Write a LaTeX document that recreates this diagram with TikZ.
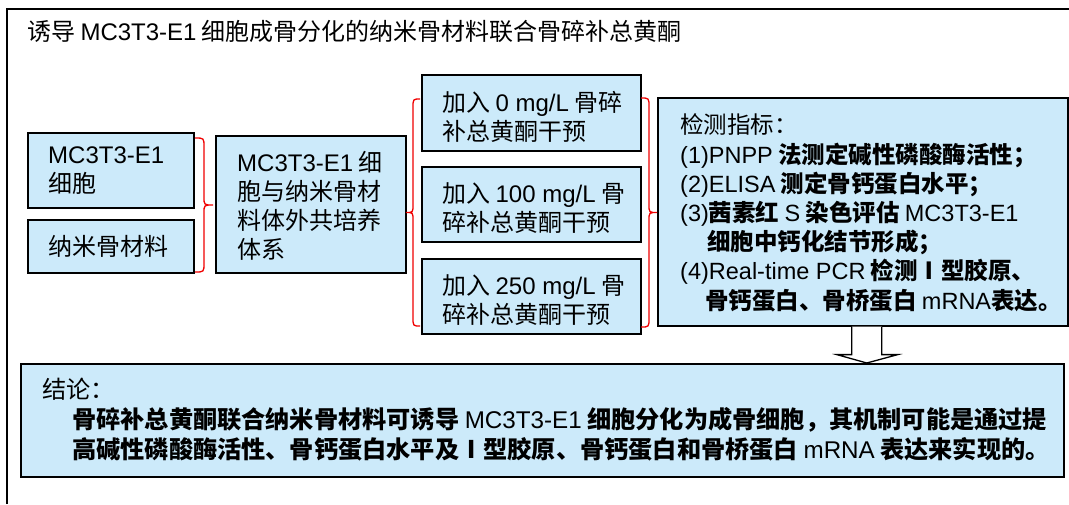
\documentclass[tikz,border=0pt]{standalone}
\usepackage{fontspec}
\setmainfont{Noto Sans CJK SC}
\newfontfamily\lat{Liberation Sans}
\usetikzlibrary{calc}
\definecolor{boxblue}{RGB}{204,234,250}
\definecolor{bracered}{RGB}{240,0,0}
\newcommand\la[1]{{\lat\mdseries #1}}
% right/left curly brace: #1 x of ends, #2 x of spine, #3 x of tip, #4 top y, #5 bottom y
\newcommand\bracepath[5]{%
  \pgfmathsetmacro\ym{(#4+#5)/2}%
  \draw[bracestyle] (#1,#4) .. controls (#2,#4) .. (#2,#4+9) -- (#2,\ym-8)
    .. controls (#2,\ym) .. (#3,\ym) .. controls (#2,\ym) .. (#2,\ym+8)
    -- (#2,#5-9) .. controls (#2,#5) .. (#1,#5);}
\begin{document}
\begin{tikzpicture}[x=1pt,y=-1pt,
  box/.style={draw=black, line width=1.6pt, fill=boxblue, anchor=north west, inner sep=0pt},
  txt/.style={anchor=west, inner sep=0pt, align=left, font=\fontsize{24pt}{29pt}\selectfont},
  txtE/.style={anchor=west, inner sep=0pt, align=left, font=\fontsize{23.5pt}{29.2pt}\selectfont},
  txtF/.style={anchor=west, inner sep=0pt, align=left, font=\fontsize{24.2pt}{30pt}\selectfont},
  bracestyle/.style={draw=bracered, line width=1.3pt},
  frame/.style={draw=black, line width=1.3pt},
  hollowarrow/.style={draw=black, line width=1.3pt, fill=white, line join=miter}]
\useasboundingbox (0,0) rectangle (1069,504);
\fill[white] (0,0) rectangle (1069,504);
\draw[frame] (7,504) -- (7,9) -- (1069,9);

\node[anchor=west, inner sep=0pt, font=\fontsize{24pt}{28pt}\selectfont] (title) at (27,31)
  {诱导 \la{MC3T3-E1} 细胞成骨分化的纳米骨材料联合骨碎补总黄酮};

% boxes
\node[box, minimum width=166pt, minimum height=75pt] (A) at (27,132) {};
\node[box, minimum width=166pt, minimum height=53pt] (B) at (27,219) {};
\node[box, minimum width=190pt, minimum height=137pt] (C) at (215,135) {};
\node[box, minimum width=219pt, minimum height=76pt] (D1) at (421,74) {};
\node[box, minimum width=219pt, minimum height=75pt] (D2) at (421,166) {};
\node[box, minimum width=219pt, minimum height=75pt] (D3) at (421,258) {};
\node[box, minimum width=410pt, minimum height=228pt] (E) at (657,97) {};
\node[box, minimum width=1043pt, minimum height=113pt] (F) at (20,363) {};

% texts
\node[txt] (At) at ($(A.west)+(21,0)$) {\la{MC3T3-E1}\\细胞};
\node[txt] (Bt) at ($(B.west)+(21,0)$) {纳米骨材料};
\node[txt] (Ct) at ($(C.west)+(22,2)$) {\la{MC3T3-E1} 细\\胞与纳米骨材\\料体外共培养\\体系};
\node[txt] (D1t) at ($(D1.west)+(21,4)$) {加入 \la{0 mg/L} 骨碎\\补总黄酮干预};
\node[txt] (D2t) at ($(D2.west)+(21,4)$) {加入 \la{100 mg/L} 骨\\碎补总黄酮干预};
\node[txt] (D3t) at ($(D3.west)+(21,4)$) {加入 \la{250 mg/L} 骨\\碎补总黄酮干预};
\node[txtE] (Et) at ($(E.west)+(23,1)$) {检测指标：\\
  \la{(1)PNPP} {\bfseries 法测定碱性磷酸酶活性；}\\
  \la{(2)ELISA} {\bfseries 测定骨钙蛋白水平；}\\
  \la{(3)}{\bfseries 茜素红} \la{S} {\bfseries 染色评估} \la{MC3T3-E1}\\
  \hspace*{27pt}{\bfseries 细胞中钙化结节形成；}\\
  \la{(4)Real-time PCR} {\bfseries 检测Ⅰ型胶原、}\\
  \hspace*{25pt}{\bfseries 骨钙蛋白、骨桥蛋白} \la{mRNA}{\bfseries 表达。}};
\node[txtF] (Ft) at ($(F.west)+(22,-1)$) {结论：\\
  \hspace*{30pt}{\bfseries 骨碎补总黄酮联合纳米骨材料可诱导} \la{MC3T3-E1} {\bfseries 细胞分化为成骨细胞，其机制可能是通过提}\\
  \hspace*{30pt}{\bfseries 高碱性磷酸酶活性、骨钙蛋白水平及Ⅰ型胶原、骨钙蛋白和骨桥蛋白} \la{mRNA} {\bfseries 表达来实现的。}};

% braces
\bracepath{195}{204}{213}{138}{272}
\bracepath{420}{413}{406}{99}{326}
\bracepath{641}{649}{657}{98}{327}

% hollow arrow from E to F
\coordinate (a0) at ($(E.south)+(4,0)$);
\coordinate (a1) at (a0 |- F.north);
\fill[white] ($(a0)+(-15,0)$) -- ($(a0)+(-15,28)$) -- ($(a0)+(-30,28)$) -- (a1)
  -- ($(a0)+(31,28)$) -- ($(a0)+(15,28)$) -- ($(a0)+(15,0)$) -- cycle;
\draw[hollowarrow, fill=none] ($(a0)+(-15,0)$) -- ($(a0)+(-15,28)$) -- ($(a0)+(-30,28)$) -- (a1)
  -- ($(a0)+(31,28)$) -- ($(a0)+(15,28)$) -- ($(a0)+(15,0)$);
\end{tikzpicture}
\end{document}
